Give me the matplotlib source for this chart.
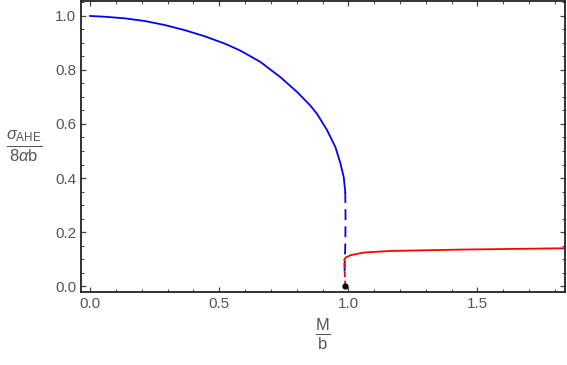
import numpy as np
import matplotlib.pyplot as plt
from matplotlib.ticker import MultipleLocator

# values
m_blue = [0.0, 0.058, 0.136, 0.213, 0.291, 0.368, 0.446, 0.523, 0.581, 0.659,
          0.736, 0.801, 0.853, 0.879, 0.917, 0.950, 0.969, 0.982, 0.988]
s_blue = [1.0, 0.997, 0.991, 0.981, 0.966, 0.947, 0.924, 0.897, 0.872, 0.830,
          0.774, 0.719, 0.668, 0.637, 0.578, 0.514, 0.455, 0.403, 0.348]

m_blue_dash = [0.988, 0.989, 0.988, 0.986, 0.985]
s_blue_dash = [0.348, 0.25, 0.15, 0.08, 0.04]

m_red_dash = [0.988, 0.986, 0.984]
s_red_dash = [0.0, 0.05, 0.096]

m_red = [0.984, 0.990, 1.008, 1.059, 1.163, 1.434, 1.84]
s_red = [0.096, 0.106, 0.114, 0.124, 0.130, 0.135, 0.140]

m_dot = [0.988]
s_dot = [0.0]

plt.rcParams['font.family'] = ['Liberation Sans', 'DejaVu Sans']
plt.rcParams['mathtext.fontset'] = 'custom'
plt.rcParams['mathtext.rm'] = 'Liberation Sans'
plt.rcParams['mathtext.it'] = 'Liberation Sans:italic'

gray = '#555555'
fig = plt.figure(figsize=(5.67, 3.65), dpi=100)
ax = fig.add_axes([0.143, 0.2, 0.854, 0.797])

ax.plot(m_blue, s_blue, color='#0000ff', lw=1.3)
ax.plot(m_blue_dash, s_blue_dash, color='#0000ff', lw=1.3, dashes=(6, 3.5))
ax.plot(m_red_dash, s_red_dash, color='#ff0000', lw=1.3, dashes=(3, 2))
ax.plot(m_red, s_red, color='#ff0000', lw=1.3)
ax.plot(m_dot, s_dot, 'o', color='black', ms=3.5, zorder=5)

ax.set_xlim(-0.035, 1.84)
ax.set_ylim(-0.022, 1.055)
ax.xaxis.set_major_locator(MultipleLocator(0.5))
ax.xaxis.set_minor_locator(MultipleLocator(0.1))
ax.yaxis.set_major_locator(MultipleLocator(0.2))
ax.yaxis.set_minor_locator(MultipleLocator(0.05))
ax.xaxis.set_major_formatter(plt.FormatStrFormatter('%.1f'))
ax.yaxis.set_major_formatter(plt.FormatStrFormatter('%.1f'))
ax.tick_params(which='both', direction='in', top=True, right=True, color='#444444',
               labelcolor=gray, labelsize=11)
ax.tick_params(which='major', length=3.5, width=0.9)
ax.tick_params(which='minor', length=2, width=0.7)
for sp in ax.spines.values():
    sp.set_linewidth(1.3)
    sp.set_color('#222222')

ax.set_xlabel(r'$\frac{\mathrm{M}}{\mathrm{b}}$', fontsize=17, color=gray, labelpad=4)
ax.set_ylabel(r'$\frac{\sigma_{\mathrm{AHE}}}{8\alpha\mathrm{b}}$', fontsize=17, color=gray,
              rotation=0, labelpad=22, va='center')

fig.savefig('out.png', dpi=100)
